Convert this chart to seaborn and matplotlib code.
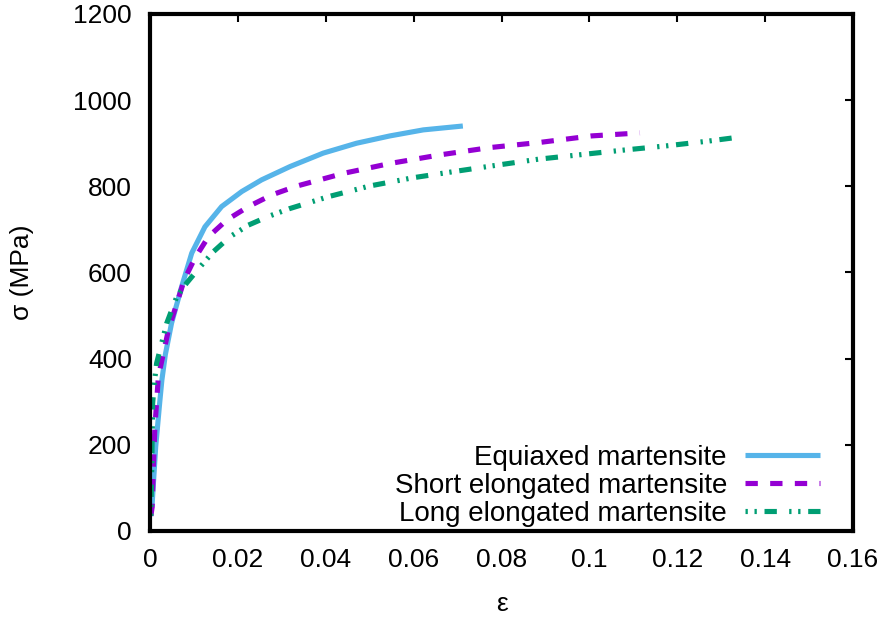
import matplotlib
matplotlib.use("Agg")
import matplotlib.pyplot as plt
import seaborn as sns
import pandas as pd

# Stress-strain curves for three martensite morphologies
eps_equiaxed = [0.0001, 0.0005, 0.0013, 0.0022, 0.0027, 0.0035, 0.0049, 0.0072,
                0.0095, 0.0125, 0.0163, 0.0209, 0.0254, 0.0319, 0.0394, 0.047,
                0.0546, 0.0622, 0.0712]
sig_equiaxed = [35, 65, 196, 297, 350, 410, 482, 567,
                645, 706, 753, 788, 815, 846, 877, 900,
                917, 931, 940]

eps_short = [0.0002, 0.0005, 0.00075, 0.0011, 0.0019, 0.0042, 0.0061, 0.0078,
             0.0102, 0.0133, 0.0175, 0.0224, 0.0277, 0.0332, 0.044, 0.0546,
             0.066, 0.0774, 0.0888, 0.1005, 0.1115]
sig_short = [35, 56, 142, 239, 358, 467, 528, 583,
             633, 683, 722, 753, 780, 800, 830, 853,
             873, 890, 902, 917, 924]

eps_long = [0.0002, 0.0004, 0.0006, 0.001, 0.0015, 0.0038, 0.0061, 0.0083,
            0.0114, 0.0144, 0.0182, 0.0224, 0.0269, 0.0317, 0.0406, 0.0501,
            0.0599, 0.069, 0.0789, 0.0884, 0.0985, 0.1077, 0.1176, 0.1271, 0.1339]
sig_long = [35, 150, 296, 345, 389, 482, 544, 575,
            613, 648, 683, 710, 730, 748, 776, 801,
            820, 834, 849, 863, 874, 884, 894, 905, 914]

labels = ["Equiaxed martensite", "Short elongated martensite", "Long elongated martensite"]
colors = ["#56b4e9", "#9400d3", "#009e73"]
x_ticks = [0, 0.02, 0.04, 0.06, 0.08, 0.1, 0.12, 0.14, 0.16]
x_tick_labels = ["0", "0.02", "0.04", "0.06", "0.08", "0.1", "0.12", "0.14", "0.16"]
y_ticks = [0, 200, 400, 600, 800, 1000, 1200]

df = pd.concat([
    pd.DataFrame({"eps": eps_equiaxed, "sig": sig_equiaxed, "type": labels[0]}),
    pd.DataFrame({"eps": eps_short, "sig": sig_short, "type": labels[1]}),
    pd.DataFrame({"eps": eps_long, "sig": sig_long, "type": labels[2]}),
])

sns.set_style("white")
plt.rcParams["font.family"] = ["Liberation Sans", "DejaVu Sans"]
plt.rcParams["text.color"] = "black"
plt.rcParams["axes.labelcolor"] = "black"
plt.rcParams["xtick.color"] = "black"
plt.rcParams["ytick.color"] = "black"

FS = 19
LEG_FS = 20
LW = 3.7

fig = plt.figure(figsize=(8.86, 6.19), dpi=100)
ax = fig.add_axes([0.1693, 0.1422, 0.7935, 0.8352])

sns.lineplot(data=df, x="eps", y="sig", hue="type", palette=colors,
             hue_order=labels, sort=False, estimator=None, ax=ax,
             linewidth=LW, legend=False)

dash_styles = [None, (0, (2.4, 2.4)), (0, (0.45, 1.3, 0.45, 1.5, 2.4, 2.4))]
for line, ds in zip(ax.get_lines(), dash_styles):
    line.set_solid_capstyle("butt")
    line.set_dash_capstyle("butt")
    line.set_solid_joinstyle("round")
    line.set_dash_joinstyle("round")
    if ds is not None:
        line.set_linestyle(ds)

ax.set_xlim(0, 0.16)
ax.set_ylim(0, 1200)
ax.set_xticks(x_ticks)
ax.set_xticklabels(x_tick_labels)
ax.set_yticks(y_ticks)
ax.tick_params(direction="in", length=6, width=1.5, labelsize=FS,
               top=True, right=True, labeltop=False, labelright=False)
ax.tick_params(axis="x", pad=12)
ax.tick_params(axis="y", pad=13)
for sp in ax.spines.values():
    sp.set_linewidth(3)
    sp.set_color("black")

ax.set_xlabel("ε", fontsize=FS, labelpad=15)
ax.set_ylabel("σ (MPa)", fontsize=FS, labelpad=28)

handles = [
    plt.Line2D([], [], color=colors[0], lw=LW, solid_capstyle="butt"),
    plt.Line2D([], [], color=colors[1], lw=LW, linestyle=dash_styles[1], dash_capstyle="butt"),
    plt.Line2D([], [], color=colors[2], lw=LW, linestyle=dash_styles[2], dash_capstyle="butt"),
]
ax.legend(handles, labels, loc="lower right", frameon=False, markerfirst=False,
          fontsize=LEG_FS, handlelength=2.7, handletextpad=0.65, labelspacing=0.07,
          borderpad=0, borderaxespad=0, bbox_to_anchor=(0.953, 0.008))

fig.savefig("out.png", dpi=100)
